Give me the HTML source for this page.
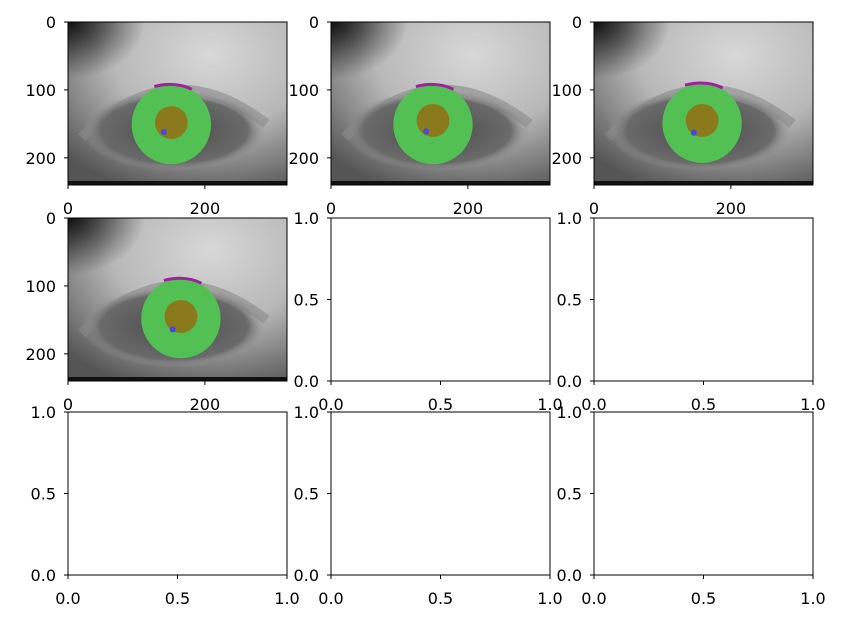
<!DOCTYPE html>
<html><head><meta charset="utf-8"><style>
body{margin:0;background:#fff;}
svg{display:block;font-family:"DejaVu Sans","Liberation Sans",sans-serif;}
</style></head><body>
<svg id="fig" width="844" height="626" viewBox="0 0 844 626" xmlns="http://www.w3.org/2000/svg">
<defs>
<radialGradient id="skin" cx="0.65" cy="0.2" r="0.9">
<stop offset="0" stop-color="#d8d8d8"/><stop offset="0.5" stop-color="#b8b8b8"/><stop offset="1" stop-color="#555"/>
</radialGradient>
<radialGradient id="corner" cx="0" cy="0" r="0.35">
<stop offset="0" stop-color="#111"/><stop offset="1" stop-color="#111" stop-opacity="0"/>
</radialGradient>
<radialGradient id="eyeball" cx="0.5" cy="0.5" r="0.5">
<stop offset="0" stop-color="#4a4a4a"/><stop offset="0.8" stop-color="#6a6a6a"/><stop offset="1" stop-color="#999" stop-opacity="0"/>
</radialGradient>
</defs>
<g id="axesLayer"></g>
</svg>
<script>
const colLefts=[68,331,594];
const rowTops=[22,218,412];
const axW=219, axH=163;
const imgXTicks=[0,200];
const imgYTicks=[0,100,200];
const unitTicks=[0.0,0.5,1.0];
const imgW=320, imgH=240;
const irisX=[151,149,158,165];
const irisY=[151,151,149,148];
const irisR=[58,58,58,58];
const pupilX=[151,149,158,165];
const pupilY=[148,145,145,145];
const pupilR=[24,24,24,24];
const glintX=[140,139,146,153];
const glintY=[162,161,163,164];
const NS="http://www.w3.org/2000/svg";
const layer=document.getElementById('axesLayer');
function mk(t,a,p){const e=document.createElementNS(NS,t);for(const k in a)e.setAttribute(k,a[k]);(p||layer).appendChild(e);return e;}
function txt(x,y,s,anchor,p){const e=mk('text',{x:x,y:y,'font-size':16,fill:'#000','text-anchor':anchor},p);e.textContent=s;return e;}
for(let r=0;r<3;r++)for(let c=0;c<3;c++){
 const idx=r*3+c, L=colLefts[c], T=rowTops[r];
 const g=mk('g',{});
 
 
 const isImg=idx<4;
 const sx=v=>L+v*axW/(isImg?imgW:1);
 const sy=v=>isImg?T+v*axH/imgH:T+axH-v*axH;
 if(isImg){
  const im=mk('g',{},g);
  
  
  mk('rect',{x:L,y:T,width:axW,height:axH,fill:'url(#skin)'},im);
  mk('rect',{x:L,y:T,width:axW,height:axH,fill:'url(#corner)'},im);
  mk('path',{d:`M${sx(20)} ${sy(170)} Q${sx(150)} ${sy(40)} ${sx(290)} ${sy(150)}`,stroke:'#888',fill:'none','stroke-width':10,opacity:0.6},im);
  mk('ellipse',{cx:sx(155),cy:sy(160),rx:axW*0.42,ry:axH*0.25,fill:'url(#eyeball)'},im);
  mk('rect',{x:L,y:T+axH-4,width:axW,height:4,fill:'#111'},im);
  const ir=mk('circle',{cx:sx(irisX[idx]),cy:sy(irisY[idx]),r:irisR[idx]*axW/imgW,fill:'#52c052'},im);
  
  mk('path',{d:`M${sx(irisX[idx]-25)} ${sy(irisY[idx]-56)} Q${sx(irisX[idx]+5)} ${sy(irisY[idx]-64)} ${sx(irisX[idx]+30)} ${sy(irisY[idx]-52)}`,stroke:'#a020a0',fill:'none','stroke-width':3},im);
  const pu=mk('circle',{cx:sx(pupilX[idx]),cy:sy(pupilY[idx]),r:pupilR[idx]*axW/imgW,fill:'#8a7a1c'},im);
  
  mk('circle',{cx:sx(glintX[idx]),cy:sy(glintY[idx]),r:3,fill:'#4848e0'},im);
 }
 mk('rect',{x:L,y:T,width:axW,height:axH,fill:'none',stroke:'#000','stroke-width':1},g);
 const xt=isImg?imgXTicks:unitTicks, yt=isImg?imgYTicks:unitTicks;
 xt.forEach(v=>{const x=sx(v);mk('line',{x1:x,x2:x,y1:T+axH,y2:T+axH+4,stroke:'#000'},g);
  const t=txt(x,T+axH+29,isImg?String(v):v.toFixed(1),'middle',g);
  });
 yt.forEach(v=>{const y=sy(v);mk('line',{x1:L-4,x2:L,y1:y,y2:y,stroke:'#000'},g);
  const t=txt(L-12,y+6,isImg?String(v):v.toFixed(1),'end',g);
  });
}
</script>
</body></html>
